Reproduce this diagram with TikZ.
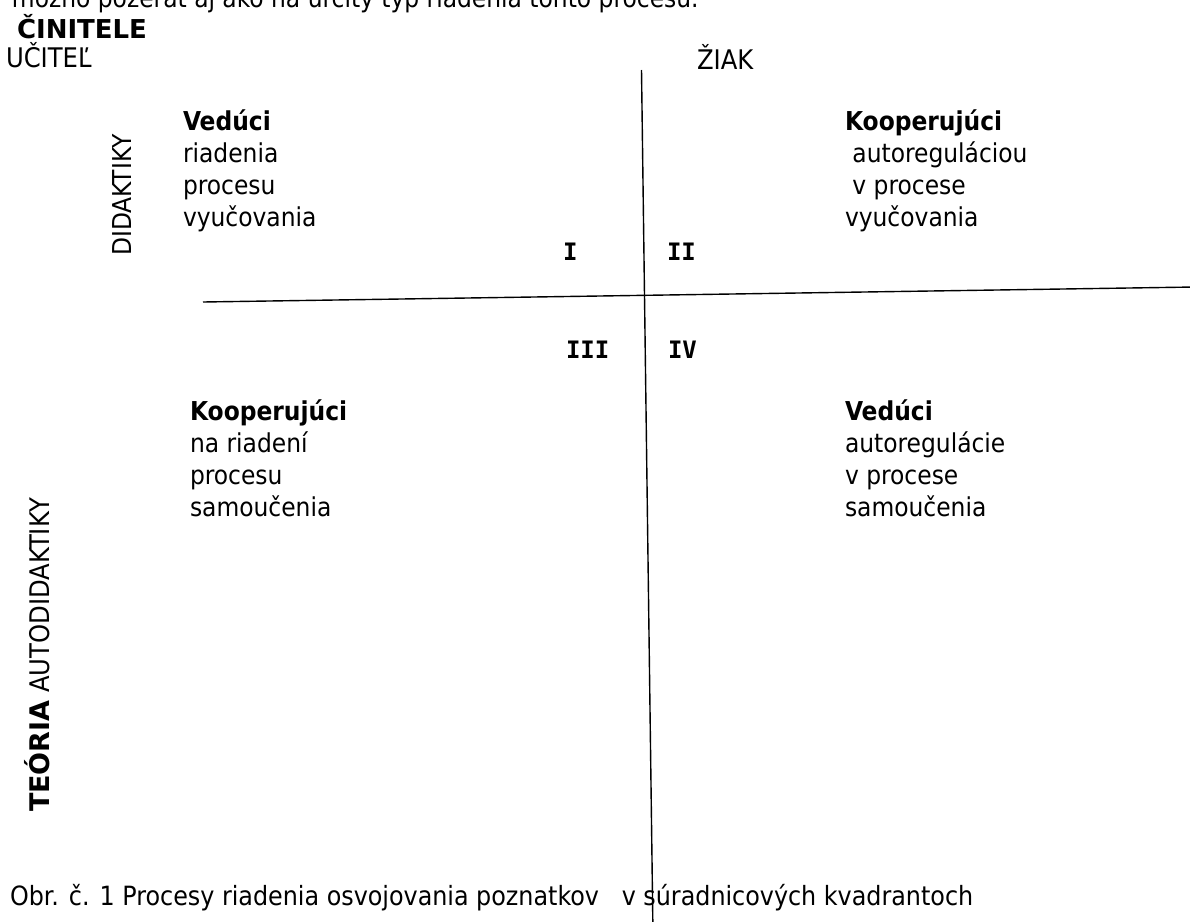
\documentclass[tikz,border=0pt]{standalone}
\usepackage{fontspec}
\setmainfont{DejaVu Sans Condensed}
\newfontfamily\widebold{DejaVu Sans Bold}
\newfontfamily\romfont{DejaVu Sans Mono}[BoldFont={DejaVu Sans Mono Bold}]
\usetikzlibrary{positioning}

\begin{document}
\begin{tikzpicture}[x=1pt,y=-1pt,line width=1.4pt,
  every node/.style={inner sep=0pt,outer sep=0pt},
  txt/.style={font=\fontsize{26}{32}\selectfont,anchor=base west},
  block/.style={font=\fontsize{26}{32}\selectfont,align=left,anchor=north west},
  quad/.style={font=\romfont\bfseries\fontsize{24}{28}\selectfont,anchor=base west}]
  \useasboundingbox (0,0) rectangle (1190,921);

  % heading and the two factors
  \node[txt] (intro) at (12,7) {možno pozerať aj ako na určitý typ riadenia tohto procesu.};
  \node[txt,font=\widebold\fontsize{26}{32}\selectfont] (cin) at (17,38) {ČINITELE};
  \node[txt,font=\fontsize{27}{32}\selectfont] (ucitel) at (6,67) {UČITEĽ};
  \node[txt,font=\fontsize{27}{32}\selectfont] (ziak) at (697,69) {ŽIAK};

  % axes
  \coordinate (vtop) at (641.5,70);
  \coordinate (vbot) at (653,935);
  \coordinate (hleft) at (203,302);
  \coordinate (hright) at (1195,287);
  \draw (vtop) -- (vbot);
  \draw (hleft) -- (hright);

  % quadrants
  \node[quad] (q1) at (563,260) {I};
  \node[quad] (q2) at (667,260) {II};
  \node[quad] (q3) at (566,358) {III};
  \node[quad] (q4) at (668,358) {IV};

  \node[block] (lt) at (183,110) {\textbf{Vedúci}\\riadenia\\procesu\\vyučovania};
  \node[block] (rt) at (845,110) {\textbf{Kooperujúci}\\\ autoreguláciou\\\ v procese\\vyučovania};
  \node[block] (lb) at (190,400) {\textbf{Kooperujúci}\\na riadení\\procesu\\samoučenia};
  \node[block] (rb) at (845,400) {\textbf{Vedúci}\\autoregulácie\\v procese\\samoučenia};

  % side labels
  \node[rotate=90,font=\fontsize{26}{32}\selectfont] (did) at (122,195) {DIDAKTIKY};
  \node[rotate=90,font=\fontsize{27}{32}\selectfont] (auto) at (37,655) {{\widebold TEÓRIA} AUTODIDAKTIKY};

  \node[txt,font=\fontsize{26.5}{32}\selectfont] (cap) at (10,905) {Obr. č. 1 Procesy riadenia osvojovania poznatkov \ \ v súradnicových kvadrantoch};
\end{tikzpicture}
\end{document}
